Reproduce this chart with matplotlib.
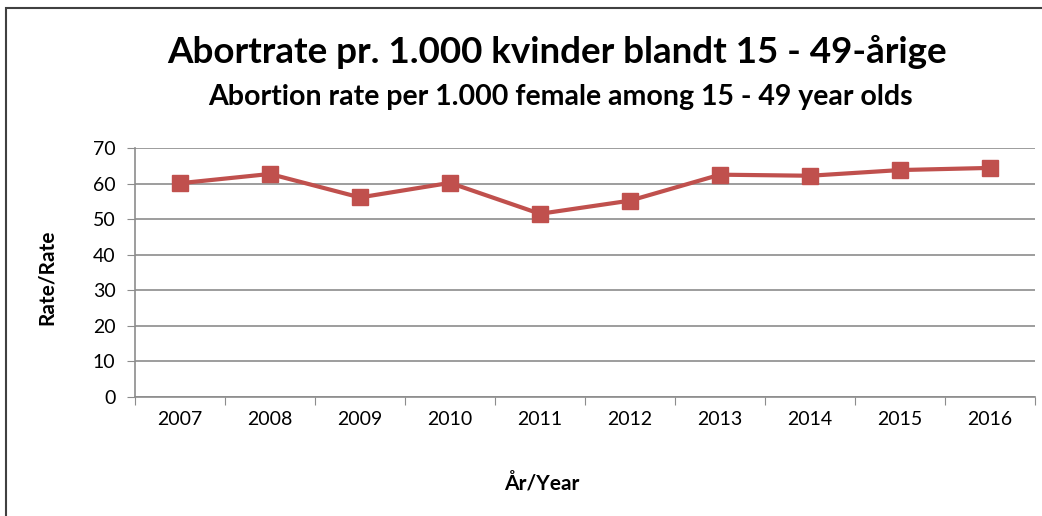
import matplotlib
matplotlib.use('Agg')
import matplotlib.pyplot as plt
from matplotlib.patches import Rectangle

years = ['2007', '2008', '2009', '2010', '2011', '2012', '2013', '2014', '2015', '2016']
rates = [60.1, 62.7, 56.1, 60.2, 51.5, 55.2, 62.5, 62.2, 63.8, 64.4]

title_da = 'Abortrate pr. 1.000 kvinder blandt 15 - 49-årige'
title_en = 'Abortion rate per 1.000 female among 15 - 49 year olds'

plt.rcParams['font.family'] = ['Lato', 'DejaVu Sans']

fig = plt.figure(figsize=(10.42, 5.16), dpi=100)
# ramme rundt om diagrammet
fig.patches.append(Rectangle((6 / 1042, -0.1), 1.2, 1 - 8 / 516 + 0.1,
                             transform=fig.transFigure, fill=False,
                             edgecolor='#404040', linewidth=1.5))

ax = fig.add_axes([135 / 1042, 1 - 397 / 516, 900 / 1042, 249 / 516])

x = list(range(len(years)))
ax.plot(x, rates, color='#C0504D', linewidth=3, marker='s', markersize=11,
        markeredgecolor='#C0504D', zorder=3)

ax.set_xlim(-0.5, len(years) - 0.5)
ax.set_ylim(0, 70)
ax.set_yticks(range(0, 71, 10))
ax.set_xticks([i + 0.5 for i in range(-1, len(years))])
ax.set_xticklabels([])
ax.set_xticks(x, minor=True)
ax.set_xticklabels(years, minor=True)
ax.tick_params(axis='x', which='minor', length=0, pad=10, labelsize=14)
ax.tick_params(axis='x', which='major', length=6, color='#8c8c8c', direction='out')
ax.tick_params(axis='y', length=6, color='#8c8c8c', direction='out', pad=8, labelsize=14)

ax.grid(axis='y', color='#8c8c8c', linewidth=1.2)
ax.set_axisbelow(True)
for side in ['top', 'right']:
    ax.spines[side].set_visible(False)
for side in ['left', 'bottom']:
    ax.spines[side].set_color('#8c8c8c')
    ax.spines[side].set_linewidth(1.2)

fig.text(557 / 1042, 1 - 52 / 516, title_da, ha='center', va='center',
         fontsize=26.5, fontweight='bold')
fig.text(560 / 1042, 1 - 97 / 516, title_en, ha='center', va='center',
         fontsize=20.5, fontweight='bold')
fig.text(47 / 1042, 1 - 277 / 516, 'Rate/Rate', rotation=90, ha='center', va='center',
         fontsize=15, fontweight='bold')
fig.text(542 / 1042, 1 - 483 / 516, 'År/Year', ha='center', va='center',
         fontsize=15, fontweight='bold')

fig.savefig('out.png', dpi=100)
